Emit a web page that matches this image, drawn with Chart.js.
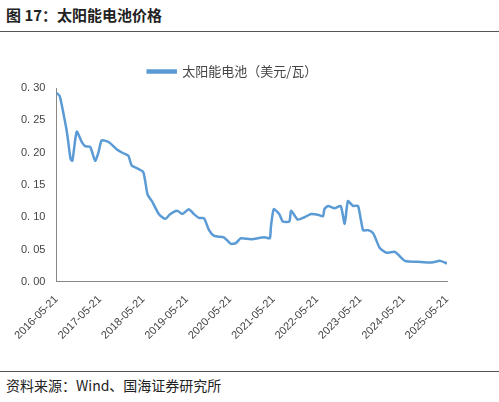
<!DOCTYPE html>
<html><head><meta charset="utf-8">
<script src="https://cdn.jsdelivr.net/npm/chart.js@4"></script>
<style>
body{margin:0;width:499px;height:402px;background:#fff;font-family:"Noto Sans CJK SC",sans-serif;position:relative;overflow:hidden}
#t{position:absolute;left:6px;top:4px;font-size:15px;font-weight:bold;color:#222}
#l1{position:absolute;left:0;top:31px;width:499px;border-top:1.5px solid #555}
#l2{position:absolute;left:0;top:371px;width:499px;border-top:1px solid #555}
#s{position:absolute;left:6px;top:375px;font-size:14px;color:#222}
#c{position:absolute;left:0;top:55px;width:499px;height:290px}
</style></head><body>
<div id="t">图 17：太阳能电池价格</div><div id="l1"></div>
<div id="c"><canvas id="cv"></canvas></div>
<div id="l2"></div><div id="s">资料来源：Wind、国海证券研究所</div>
<script>
const months=[0,0.9,2.3,3,3.9,4.4,5.6,6.9,7.9,9.3,10.7,11.6,12.5,14.4,16.7,18.5,19.9,20.8,22.2,24,25.2,26.4,28.3,30.1,31.5,33.4,34.8,36.6,38,39.4,40.8,42.2,43.6,46.3,48.2,49.6,51,53.8,57.5,59,59.3,60.1,61.6,62.6,64.4,64.9,66.7,68.6,70.4,72.3,73.7,74.1,75.1,76.9,78.6,79.7,80.6,82,83.4,84.8,86.2,87.6,89.4,91.3,93.6,96.4,100.1,103.8,106.1,108];
const prices=[0.2925,0.2875,0.25,0.2275,0.19,0.1875,0.2325,0.2175,0.21,0.209,0.1875,0.2,0.219,0.2165,0.205,0.199,0.195,0.18,0.176,0.17,0.135,0.125,0.105,0.0975,0.105,0.11,0.105,0.1125,0.105,0.099,0.0985,0.08,0.071,0.069,0.059,0.06,0.0675,0.066,0.069,0.0675,0.085,0.1125,0.105,0.0935,0.0935,0.11,0.0965,0.1,0.105,0.104,0.1015,0.1125,0.1175,0.114,0.1175,0.09,0.125,0.1175,0.1175,0.08,0.08,0.075,0.0525,0.045,0.0465,0.0325,0.031,0.03,0.0325,0.0285];
const tickLabels=['2016-05-21','2017-05-21','2018-05-21','2019-05-21','2020-05-21','2021-05-21','2022-05-21','2023-05-21','2024-05-21','2025-05-21'];
const seriesName='太阳能电池（美元/瓦）';
new Chart(document.getElementById('cv'),{type:'line',
data:{datasets:[{label:seriesName,data:months.map((m,i)=>({x:m,y:prices[i]})),borderColor:'#5B9BD5',backgroundColor:'#5B9BD5',borderWidth:2.5,pointRadius:0,tension:0.2}]},
options:{responsive:true,maintainAspectRatio:false,animation:false,
layout:{padding:{left:18,right:52,top:0,bottom:0}},
plugins:{legend:{labels:{boxWidth:28,boxHeight:2,font:{size:13,family:'Noto Sans CJK SC'},color:'#444'}}},
scales:{x:{type:'linear',min:0,max:108,grid:{display:false,drawTicks:true},border:{color:'#888'},
ticks:{stepSize:12,maxRotation:45,minRotation:45,color:'#444',font:{size:11},callback:v=>tickLabels[v/12]||''}},
y:{min:0,max:0.3,grid:{display:false},border:{color:'#888'},
ticks:{stepSize:0.05,color:'#444',font:{size:11},callback:v=>v.toFixed(2).replace('.', '. ')}}}}});
</script></body></html>
